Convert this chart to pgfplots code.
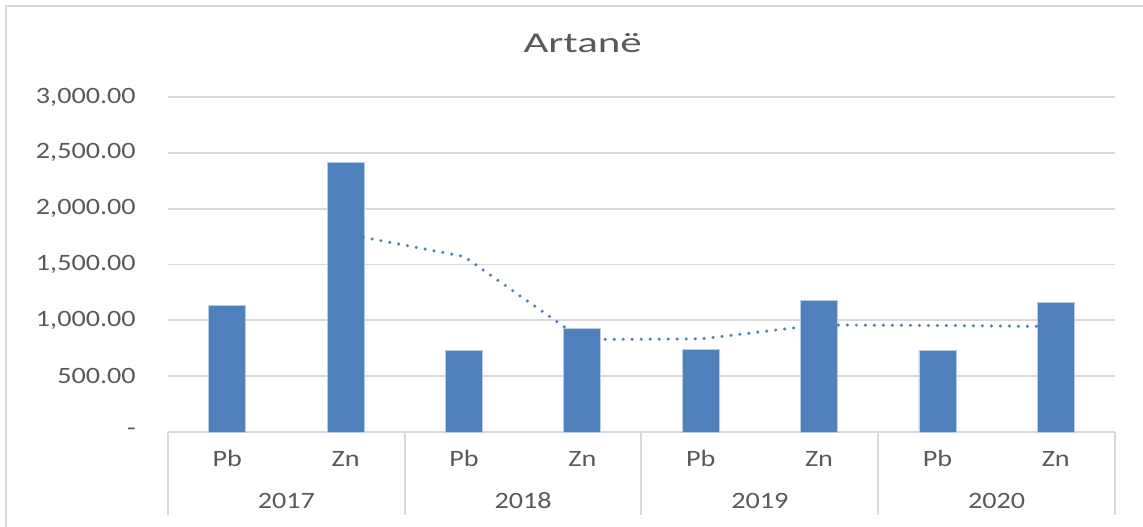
\documentclass[border=0pt]{standalone}
\usepackage{fontspec}
\setmainfont{Carlito}[FakeStretch=1.2]
\newfontfamily\titlefont{Carlito}[FakeStretch=1.5]
\usepackage{pgfplots}
\pgfplotsset{compat=1.18}
\definecolor{barblue}{HTML}{4F81BD}
\definecolor{gridgray}{HTML}{D9D9D9}
\definecolor{textgray}{HTML}{595959}
\newcommand{\lblfont}{\fontsize{17.6}{20}\selectfont}
\begin{document}
\begin{tikzpicture}
\useasboundingbox (0,0) rectangle (857.25pt,395.25pt);
\draw[gridgray, line width=1.5pt] (4.5pt,-10pt) -- (4.5pt,390.75pt) -- (870pt,390.75pt);
\node[anchor=base, text=textgray, inner sep=0pt, font=\titlefont\fontsize{21.5}{24}\selectfont] at (437pt,355.5pt) {Artanë};
\begin{axis}[
  at={(126pt,71.25pt)}, anchor=south west,
  scale only axis, width=710.25pt, height=251.25pt,
  xmin=0, xmax=8, ymin=0, ymax=3000,
  clip=false,
  axis x line*=bottom, axis y line*=left,
  x axis line style={gridgray, line width=1.5pt, -},
  y axis line style={draw=none},
  xtick=\empty,
  ytick={0,500,1000,1500,2000,2500,3000},
  yticklabels={-\hspace{10.5pt},500.00,{1,000.00},{1,500.00},{2,000.00},{2,500.00},{3,000.00}},
  tick style={draw=none}, major tick length=0pt,
  yticklabel style={text=textgray, font=\lblfont, inner sep=0pt, xshift=-24pt},
  ymajorgrids, grid style={gridgray, line width=1.4pt},
]
\addplot[ybar, bar width=27.75pt, fill=barblue, draw=white!60!barblue, line width=0.5pt]
  coordinates {(0.5,1131) (1.5,2416) (2.5,728) (3.5,928) (4.5,740) (5.5,1177) (6.5,731) (7.5,1159)};
\addplot[barblue, line width=2.6pt, line cap=round, dash pattern=on 0pt off 6.75pt, mark=none]
  coordinates {(1.5,1773.5) (2.5,1572) (3.5,828) (4.5,834) (5.5,958.5) (6.5,954) (7.5,945)};
\draw[gridgray, line width=1.5pt] (axis cs:0,0) -- ++(0,-62.25pt);
\draw[gridgray, line width=1.5pt] (axis cs:2,0) -- ++(0,-62.25pt);
\draw[gridgray, line width=1.5pt] (axis cs:4,0) -- ++(0,-62.25pt);
\draw[gridgray, line width=1.5pt] (axis cs:6,0) -- ++(0,-62.25pt);
\draw[gridgray, line width=1.5pt] (axis cs:8,0) -- ++(0,-62.25pt);
\node[anchor=base, text=textgray, font=\lblfont] at ([yshift=-26.25pt]axis cs:0.5,0) {Pb};
\node[anchor=base, text=textgray, font=\lblfont] at ([yshift=-26.25pt]axis cs:1.5,0) {Zn};
\node[anchor=base, text=textgray, font=\lblfont] at ([yshift=-26.25pt]axis cs:2.5,0) {Pb};
\node[anchor=base, text=textgray, font=\lblfont] at ([yshift=-26.25pt]axis cs:3.5,0) {Zn};
\node[anchor=base, text=textgray, font=\lblfont] at ([yshift=-26.25pt]axis cs:4.5,0) {Pb};
\node[anchor=base, text=textgray, font=\lblfont] at ([yshift=-26.25pt]axis cs:5.5,0) {Zn};
\node[anchor=base, text=textgray, font=\lblfont] at ([yshift=-26.25pt]axis cs:6.5,0) {Pb};
\node[anchor=base, text=textgray, font=\lblfont] at ([yshift=-26.25pt]axis cs:7.5,0) {Zn};
\node[anchor=base, text=textgray, font=\lblfont] at ([yshift=-57.75pt]axis cs:1,0) {2017};
\node[anchor=base, text=textgray, font=\lblfont] at ([yshift=-57.75pt]axis cs:3,0) {2018};
\node[anchor=base, text=textgray, font=\lblfont] at ([yshift=-57.75pt]axis cs:5,0) {2019};
\node[anchor=base, text=textgray, font=\lblfont] at ([yshift=-57.75pt]axis cs:7,0) {2020};
\end{axis}
\end{tikzpicture}
\end{document}
